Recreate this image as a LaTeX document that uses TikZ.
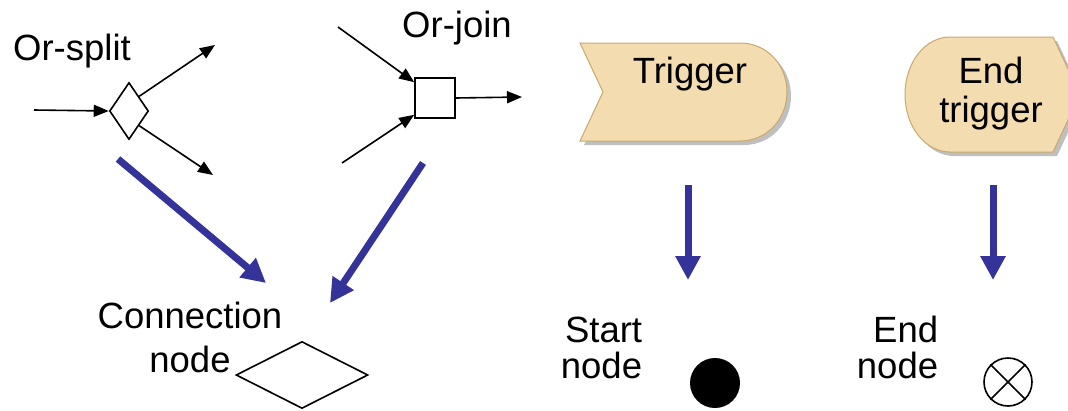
\documentclass[tikz,border=0pt]{standalone}
\usepackage{fontspec}
\setmainfont{Liberation Sans}
\usetikzlibrary{arrows.meta,shapes.geometric,shadows}
\definecolor{tanfill}{HTML}{F3DDB0}
\definecolor{tanborder}{HTML}{C8A86E}
\definecolor{darkblue}{HTML}{333399}
\begin{document}
\begin{tikzpicture}[x=1pt,y=-1pt,
  lbl/.style={font=\fontsize{36.5}{44}\selectfont, inner sep=0pt},
  flow/.style={line width=1.6pt,-{Triangle[length=15pt,width=12pt]}},
  big/.style={darkblue,line width=7pt,-{Triangle[length=24pt,width=24pt]}},
  gate/.style={draw,line width=1.6pt,inner sep=0pt},
  trigshape/.style={fill=tanfill,draw=tanborder,line width=1pt,drop shadow={shadow xshift=4pt,shadow yshift=-4pt,fill=black!25,opacity=1}}
]
\useasboundingbox (0,0) rectangle (1068,410);
\clip (0,0) rectangle (1068,410);

% Or-split
\node[lbl,anchor=base] (lsplit) at (72,60) {Or-split};
\node[gate,diamond,minimum width=39pt,minimum height=57pt] (split) at (129,111) {};
\coordinate (sin) at (34,110);
\coordinate (sout1) at (215,45);
\coordinate (sout2) at (213,175);
\draw[flow] (sin) -- (split.west);
\draw[flow] (split.north east) -- (sout1);
\draw[flow] (split.south east) -- (sout2);

% Or-join
\node[lbl,anchor=base] (ljoin) at (457,37) {Or-join};
\node[gate,rectangle,minimum size=40pt] (join) at (435,98) {};
\coordinate (jin1) at (338,27);
\coordinate (jin2) at (342,163);
\coordinate (jout) at (522,97);
\draw[flow] (jin1) -- ([yshift=-5pt]join.north west);
\draw[flow] (jin2) -- ([yshift=4pt]join.south west);
\draw[flow] (join.east) -- (jout);

% blue arrows to connection node
\coordinate (b1s) at (118,159);
\coordinate (b1e) at (266,283);
\coordinate (b2s) at (423,163);
\coordinate (b2e) at (330,303);
\draw[big] (b1s) -- (b1e);
\draw[big] (b2s) -- (b2e);

% Connection node
\node[lbl,anchor=base,align=center] (lconn) at (190,372) {Connection\\node};
\node[gate,diamond,minimum width=132pt,minimum height=67pt] (conn) at (302,375) {};

% Trigger
\path[trigshape] (580,43) -- (740,43) .. controls (767,43) and (787,65) .. (787,92)
  .. controls (787,119) and (767,141) .. (740,141) -- (580,141) -- (603,92) -- cycle;
\node[lbl,anchor=base] (ltrig) at (690,83) {Trigger};

% End trigger
\path[trigshape] (950,37) -- (1053,37) -- (1080,94.5) -- (1053,152) -- (950,152)
  .. controls (925,152) and (905,126.3) .. (905,94.5)
  .. controls (905,62.7) and (925,37) .. (950,37) -- cycle;
\node[lbl,anchor=base,align=center,font=\fontsize{36.5}{39}\selectfont] (lendtrig) at (991,122) {End\\trigger};

% vertical blue arrows
\coordinate (v1s) at (688,185);
\coordinate (v1e) at (688,280);
\coordinate (v2s) at (993,185);
\coordinate (v2e) at (993,280);
\draw[big] (v1s) -- (v1e);
\draw[big] (v2s) -- (v2e);

% Start node
\node[lbl,anchor=base,align=right,font=\fontsize{36.5}{36}\selectfont] (lstart) at (601.5,378) {Start\\node};
\node[circle,fill=black,minimum size=50pt,inner sep=0pt] (start) at (715,383) {};

% End node
\node[lbl,anchor=base,align=right,font=\fontsize{36.5}{36}\selectfont] (lendn) at (897.5,378) {End\\node};
\node[gate,circle,minimum size=48pt] (endn) at (1008,382) {};
\draw[line width=1.6pt] (endn.north west) -- (endn.south east);
\draw[line width=1.6pt] (endn.north east) -- (endn.south west);
\end{tikzpicture}
\end{document}
